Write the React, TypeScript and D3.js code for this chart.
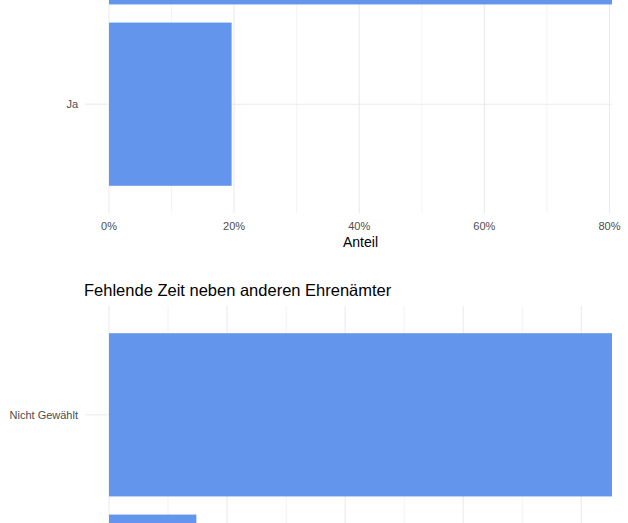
import React from "react";
import * as d3 from "d3";

// Panel 1 (top, partially cropped)
const cats1 = ["Nein", "Ja"];
const vals1 = [0.804, 0.196];
// Panel 2
const title2 = "Fehlende Zeit neben anderen Ehrenämter";
const cats2 = ["Nicht Gewählt", "Gewählt"];
const vals2 = [0.852, 0.148];

const majorTicks = [0, 0.2, 0.4, 0.6, 0.8];
const minorTicks = [0.1, 0.3, 0.5, 0.7];
const xTitle = "Anteil";

const W = 628;
const H = 523;
const FONT = "'Liberation Sans', Arial, sans-serif";
const BAR = "#6495ED";

// only draw texts that fall within the visible canvas
const visible = (yy: number) => yy > 6 && yy < H - 6;

type PanelProps = {
  cats: string[];
  vals: number[];
  top: number;
  bottom: number;
  title?: string;
  showAxis: boolean;
};

function Panel({ cats, vals, top, bottom, title, showAxis }: PanelProps) {
  const left = 109;
  const right = 612;
  const x = d3.scaleLinear().domain([0, d3.max(vals) as number]).range([left, right]);
  const y = d3.scaleBand<string>().domain(cats).range([top, bottom]).paddingInner(0.1).paddingOuter(0.15);
  const fmt = d3.format(".0%");
  const center = (c: string) => (y(c) as number) + y.bandwidth() / 2;
  return (
    <g>
      {title && visible(top - 10) && (
        <text x={84} y={top - 10} fontSize={16.5} fill="#000" fontFamily={FONT}>
          {title}
        </text>
      )}
      {minorTicks.map((t) => (
        <line key={"mn" + t} x1={x(t)} x2={x(t)} y1={top} y2={bottom} stroke="#ebebeb" strokeWidth={0.6} />
      ))}
      {majorTicks.map((t) => (
        <line key={"mj" + t} x1={x(t)} x2={x(t)} y1={top} y2={bottom} stroke="#ebebeb" strokeWidth={1.1} />
      ))}
      {cats.map((c) => (
        <line key={"hg" + c} x1={left} x2={right} y1={center(c)} y2={center(c)} stroke="#ebebeb" strokeWidth={1.1} />
      ))}
      {cats.map((c, i) => (
        <rect key={"b" + c} x={x(0)} y={y(c)} width={x(vals[i]) - x(0)} height={y.bandwidth()} fill={BAR} />
      ))}
      {cats.map((c) => (
        <g key={"yl" + c}>
          <line x1={85} x2={left} y1={center(c)} y2={center(c)} stroke="#ebebeb" strokeWidth={1.1} />
          {visible(center(c)) && (
            <text x={78} y={center(c)} dy="0.35em" textAnchor="end" fontSize={11} fill="#4d4d4d" fontFamily={FONT}>
              {c}
            </text>
          )}
        </g>
      ))}
      {showAxis && visible(bottom + 13) && (
        <g>
          {majorTicks.map((t) => (
            <text key={"xl" + t} x={x(t)} y={bottom + 13} dy="0.35em" textAnchor="middle" fontSize={11} fill="#4d4d4d" fontFamily={FONT}>
              {fmt(t)}
            </text>
          ))}
          <text x={(left + right) / 2} y={bottom + 29} dy="0.35em" textAnchor="middle" fontSize={14} fill="#000" fontFamily={FONT}>
            {xTitle}
          </text>
        </g>
      )}
    </g>
  );
}

export default function App() {
  return (
    <svg width={W} height={H} style={{ position: "absolute", left: 0, top: 0, background: "#fff" }}>
      <rect x={0} y={0} width={W} height={H} fill="#fff" />
      <Panel cats={cats1} vals={vals1} top={-186} bottom={213} showAxis={true} />
      <Panel cats={cats2} vals={vals2} top={306} bottom={705} title={title2} showAxis={true} />
    </svg>
  );
}
